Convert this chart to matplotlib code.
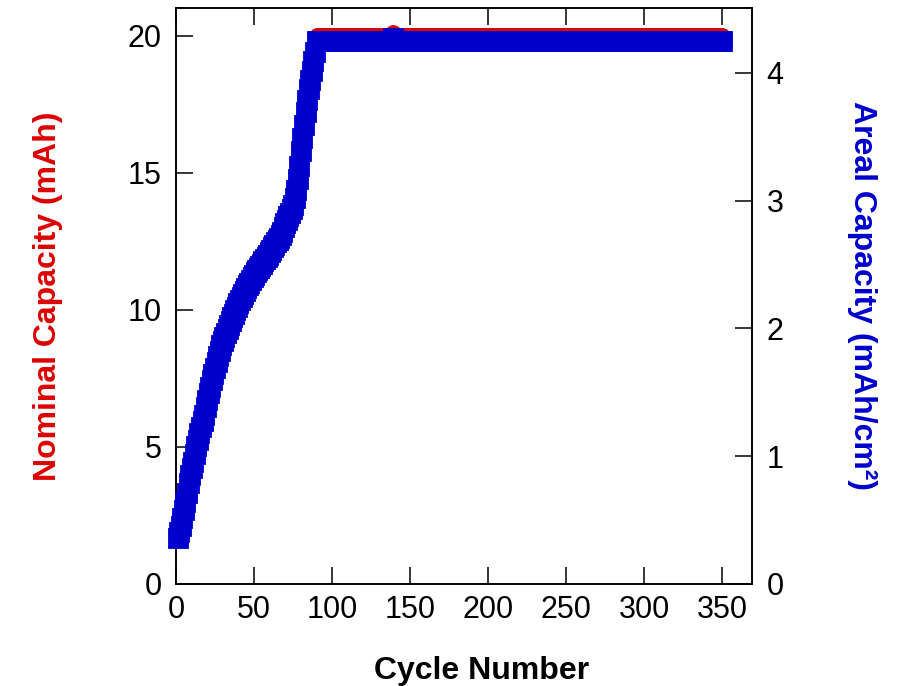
import numpy as np
import matplotlib
matplotlib.use('Agg')
import matplotlib.pyplot as plt

plt.rcParams['font.family'] = ['Liberation Sans', 'DejaVu Sans']

# capacity per cycle (mAh): formation ramp for cycles 1-89
ramp_capacity = [
    1.70, 1.92, 2.15, 2.42, 2.72, 3.03, 3.35, 3.72, 4.02, 4.28,
    4.51, 4.80, 5.09, 5.32, 5.56, 5.79, 6.01, 6.23, 6.51, 6.78,
    7.02, 7.26, 7.50, 7.73, 7.96, 8.19, 8.40, 8.59, 8.79, 8.95,
    9.10, 9.26, 9.41, 9.56, 9.70, 9.83, 9.96, 10.09, 10.21, 10.34,
    10.46, 10.58, 10.69, 10.80, 10.90, 11.00, 11.10, 11.20, 11.30, 11.40,
    11.48, 11.56, 11.65, 11.73, 11.81, 11.89, 11.97, 12.05, 12.14, 12.23,
    12.32, 12.41, 12.50, 12.59, 12.67, 12.75, 12.85, 12.99, 13.14, 13.29,
    13.43, 13.56, 13.69, 13.82, 13.95, 14.22, 14.52, 14.92, 15.40, 15.95,
    16.43, 16.90, 17.38, 17.82, 18.24, 18.58, 18.92, 19.27, 19.62,
]

# capacity-limited cycling, cycles 90-350
capped_capacity = [
    20.0, 20.0, 20.0, 20.0, 20.0, 20.0, 20.0, 20.0, 20.0, 20.0, 20.0, 20.0, 20.0, 20.0, 20.0, 20.0, 20.0, 20.0, 20.0, 20.0,
    20.0, 20.0, 20.0, 20.0, 20.0, 20.0, 20.0, 20.0, 20.0, 20.0, 20.0, 20.0, 20.0, 20.0, 20.0, 20.0, 20.0, 20.0, 20.0, 20.0,
    20.0, 20.0, 20.0, 20.0, 20.0, 20.0, 20.0, 20.0, 20.0, 20.12, 20.0, 20.0, 20.0, 20.0, 20.0, 20.0, 20.0, 20.0, 20.0, 20.0,
    20.0, 20.0, 20.0, 20.0, 20.0, 20.0, 20.0, 20.0, 20.0, 20.0, 20.0, 20.0, 20.0, 20.0, 20.0, 20.0, 20.0, 20.0, 20.0, 20.0,
    20.0, 20.0, 20.0, 20.0, 20.0, 20.0, 20.0, 20.0, 20.0, 20.0, 20.0, 20.0, 20.0, 20.0, 20.0, 20.0, 20.0, 20.0, 20.0, 20.0,
    20.0, 20.0, 20.0, 20.0, 20.0, 20.0, 20.0, 20.0, 20.0, 20.0, 20.0, 20.0, 20.0, 20.0, 20.0, 20.0, 20.0, 20.0, 20.0, 20.0,
    20.0, 20.0, 20.0, 20.0, 20.0, 20.0, 20.0, 20.0, 20.0, 20.0, 20.0, 20.0, 20.0, 20.0, 20.0, 20.0, 20.0, 20.0, 20.0, 20.0,
    20.0, 20.0, 20.0, 20.0, 20.0, 20.0, 20.0, 20.0, 20.0, 20.0, 20.0, 20.0, 20.0, 20.0, 20.0, 20.0, 20.0, 20.0, 20.0, 20.0,
    20.0, 20.0, 20.0, 20.0, 20.0, 20.0, 20.0, 20.0, 20.0, 20.0, 20.0, 20.0, 20.0, 20.0, 20.0, 20.0, 20.0, 20.0, 20.0, 20.0,
    20.0, 20.0, 20.0, 20.0, 20.0, 20.0, 20.0, 20.0, 20.0, 20.0, 20.0, 20.0, 20.0, 20.0, 20.0, 20.0, 20.0, 20.0, 20.0, 20.0,
    20.0, 20.0, 20.0, 20.0, 20.0, 20.0, 20.0, 20.0, 20.0, 20.0, 20.0, 20.0, 20.0, 20.0, 20.0, 20.0, 20.0, 20.0, 20.0, 20.0,
    20.0, 20.0, 20.0, 20.0, 20.0, 20.0, 20.0, 20.0, 20.0, 20.0, 20.0, 20.0, 20.0, 20.0, 20.0, 20.0, 20.0, 20.0, 20.0, 20.0,
    20.0, 20.0, 20.0, 20.0, 20.0, 20.0, 20.0, 20.0, 20.0, 20.0, 20.0, 20.0, 20.0, 20.0, 20.0, 20.0, 20.0, 20.0, 20.0, 20.0,
    20.0,
]

electrode_area = 4.71  # cm^2

x_ticks = [0, 50, 100, 150, 200, 250, 300, 350]
nominal_ticks = [0, 5, 10, 15, 20]
areal_ticks = [0, 1, 2, 3, 4]

nominal = np.array(ramp_capacity + capped_capacity)
areal = nominal / electrode_area
cycles = np.arange(1, len(nominal) + 1)

red = '#DD0000'
blue = '#0000CC'

fig = plt.figure(figsize=(9.14, 6.86), dpi=100)
ax = fig.add_axes([0.1926, 0.1487, 0.6302, 0.8397])
ax2 = ax.twinx()

# markers are allowed to spill over the left spine
ax.plot(cycles, nominal, 'o', color=red, ms=11.5, mew=0.5, mec=red,
        clip_on=False, zorder=3)
ax2.plot(cycles, areal, 's', color=blue, ms=14.5, mew=0.6, mec=blue,
         clip_on=False, zorder=3)

ax.set_xlim(0, 369)
ax.set_ylim(0, 21.02)
ax2.set_ylim(0, 4.507)
ax.set_xticks(x_ticks)
ax.set_yticks(nominal_ticks)
ax2.set_yticks(areal_ticks)

ax.tick_params(axis='x', direction='in', top=True, length=12, width=1.1,
               labelsize=22, pad=8)
ax.tick_params(axis='y', direction='in', length=12, width=1.1,
               labelsize=22, pad=10.5)
ax2.tick_params(axis='y', direction='in', length=12, width=1.1,
                labelsize=22, pad=10.5)

for a in (ax, ax2):
    for s in a.spines.values():
        s.set_linewidth(1.2)

ax.set_xlabel('Cycle Number', fontsize=23, fontweight='bold')
ax.xaxis.set_label_coords(0.53, -0.125)
ax.set_ylabel('Nominal Capacity (mAh)', fontsize=23, fontweight='bold',
              color=red, va='center')
ax.yaxis.set_label_coords(-0.222, 0.5)
ax2.set_ylabel('Areal Capacity (mAh/cm²)', fontsize=23, fontweight='bold',
               color=blue, rotation=270, va='center')
ax2.yaxis.set_label_coords(1.191, 0.5)

fig.savefig('out.png', dpi=100)
